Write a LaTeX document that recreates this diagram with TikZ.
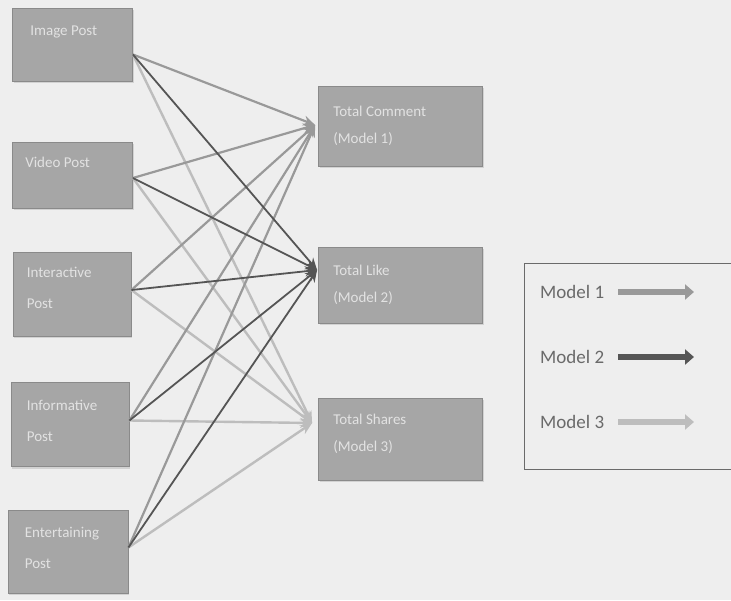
\documentclass[tikz,border=0pt]{standalone}
\usepackage{fontspec}
\setmainfont{Carlito}
\usetikzlibrary{arrows.meta,calc,shadows}
\definecolor{bgc}{HTML}{EEEEEE}
\definecolor{boxc}{HTML}{A6A6A6}
\definecolor{boxe}{HTML}{8A8A8A}
\definecolor{txtc}{HTML}{E2E2E2}
\definecolor{mone}{HTML}{999999}
\definecolor{mtwo}{HTML}{555555}
\definecolor{mthree}{HTML}{BDBDBD}
\definecolor{legtxt}{HTML}{6A6A6A}
\tikzset{
  postbox/.style={draw=boxe,fill=boxc,line width=0.8pt,inner sep=0pt,
    drop shadow={shadow xshift=1pt,shadow yshift=-2pt,opacity=0.25}},
  boxtext/.style={anchor=north west,text=txtc,font=\fontsize{15}{31}\selectfont,align=left,inner sep=0pt},
  rboxtext/.style={boxtext,font=\fontsize{15}{27}\selectfont},
  lone/.style={draw=mone,line width=2.2pt,-{Stealth[length=12pt,width=10pt]}},
  ltwo/.style={draw=mtwo,line width=1.8pt,-{Stealth[length=12pt,width=10pt]}},
  lthree/.style={draw=mthree,line width=2.4pt,-{Stealth[length=12pt,width=10pt]}},
  legarrow/.style={line width=6.5pt,-{Triangle[length=9pt,width=15pt]}},
  legtext/.style={text=legtxt,font=\fontsize{19}{22}\selectfont,anchor=west,inner sep=0pt}
}
\begin{document}
\begin{tikzpicture}[x=1pt,y=-1pt]
\fill[bgc] (0,0) rectangle (731,600);
\useasboundingbox (0,0) rectangle (731,600);
% left boxes
\node[postbox,minimum width=120pt,minimum height=73pt] (img) at (72.5,44.5) {};
\node[postbox,minimum width=120pt,minimum height=66pt] (vid) at (72.5,175) {};
\node[postbox,minimum width=118pt,minimum height=84pt] (int) at (72,294) {};
\node[postbox,minimum width=118pt,minimum height=84pt] (inf) at (70,424.5) {};
\node[postbox,minimum width=120pt,minimum height=83pt] (ent) at (68,551.5) {};
\node[boxtext] (timg) at ($(img.north west)+(18,18)$) {Image Post};
\node[boxtext] (tvid) at ($(vid.north west)+(13,15)$) {Video Post};
\node[boxtext] (tint) at ($(int.north west)+(14,15)$) {Interactive\\Post};
\node[boxtext] (tinf) at ($(inf.north west)+(16,18)$) {Informative\\Post};
\node[boxtext] (tent) at ($(ent.north west)+(17,17)$) {Entertaining\\Post};
% right boxes
\node[postbox,minimum width=164pt,minimum height=80pt] (com) at (400.5,126) {};
\node[postbox,minimum width=164pt,minimum height=76pt] (lik) at (400.5,285) {};
\node[postbox,minimum width=164pt,minimum height=82pt] (sha) at (400.5,439) {};
\node[rboxtext] (tcom) at ($(com.north west)+(15,20)$) {Total Comment\\(Model 1)};
\node[rboxtext] (tlik) at ($(lik.north west)+(15,18)$) {Total Like\\(Model 2)};
\node[rboxtext] (tsha) at ($(sha.north west)+(15,16)$) {Total Shares\\(Model 3)};
% connector end points
\coordinate (s1) at ($(img.east)+(0,10)$);
\coordinate (s2) at ($(vid.east)+(0,3)$);
\coordinate (s3) at ($(int.east)+(0,-4)$);
\coordinate (s4) at ($(inf.east)+(0,-4)$);
\coordinate (s5) at ($(ent.east)+(0,-4)$);
\coordinate (t1) at ($(com.west)+(-3,-1)$);
\coordinate (t2) at ($(lik.west)+(-1,-15)$);
\coordinate (t3) at ($(sha.west)+(-6,-16)$);
% model 3 (light)
\foreach \s in {s1,s2,s3,s4,s5} \draw[lthree] (\s) -- (t3);
% model 1 (medium)
\foreach \s in {s1,s2,s3,s4,s5} \draw[lone] (\s) -- (t1);
% model 2 (dark)
\foreach \s in {s1,s2,s3,s4,s5} \draw[ltwo] (\s) -- (t2);
% legend
\node[draw=legtxt,line width=0.8pt,minimum width=210pt,minimum height=206pt,inner sep=0pt] (leg) at (629,366) {};
\node[legtext] (l1) at (540,292) {Model 1};
\node[legtext] (l2) at (540,357) {Model 2};
\node[legtext] (l3) at (540,422) {Model 3};
\coordinate (a1) at ($(l1.east)+(14,0)$);
\coordinate (a2) at ($(l2.east)+(14,0)$);
\coordinate (a3) at ($(l3.east)+(14,0)$);
\coordinate (b1) at (694,292);
\coordinate (b2) at (694,357);
\coordinate (b3) at (694,422);
\draw[legarrow,draw=mone,fill=mone] (a1) -- (b1);
\draw[legarrow,draw=mtwo,fill=mtwo] (a2) -- (b2);
\draw[legarrow,draw=mthree,fill=mthree] (a3) -- (b3);
\end{tikzpicture}
\end{document}
